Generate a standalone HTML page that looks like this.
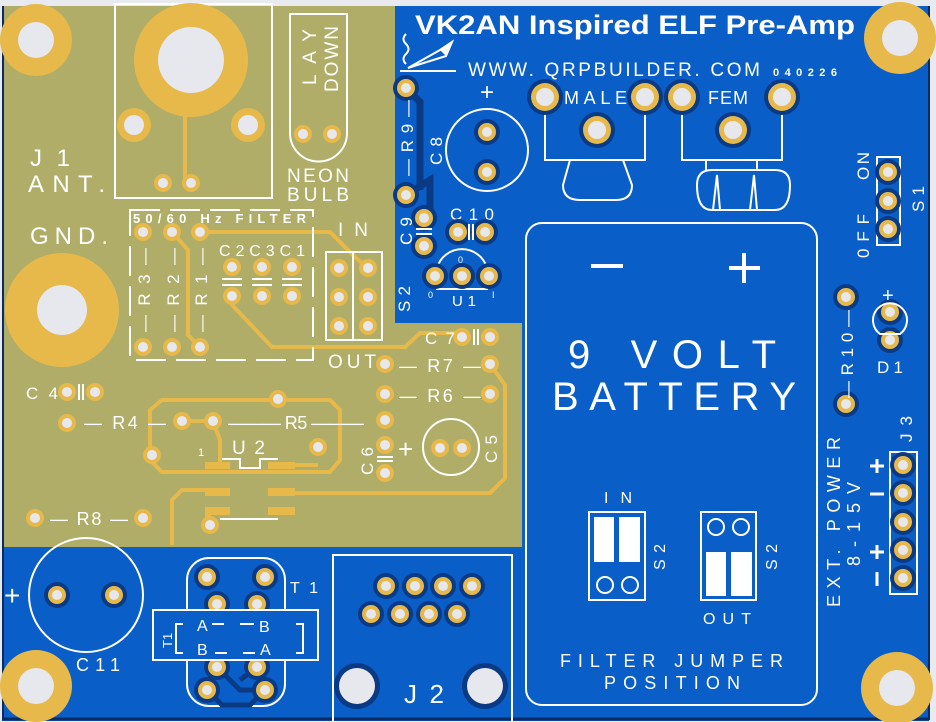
<!DOCTYPE html>
<html><head><meta charset="utf-8"><style>
html,body{margin:0;padding:0;background:#e8eaf0;}
svg{display:block}
text{font-family:"Liberation Sans",sans-serif;fill:#fff}
.m{font-family:"Liberation Sans",sans-serif}
</style></head><body>
<svg width="936" height="722" viewBox="0 0 936 722" xmlns="http://www.w3.org/2000/svg">
<defs>
<g id="po"><circle r="9" fill="#e7b94a"/><circle r="5" fill="#e6e8ee"/></g>
<g id="pb"><circle r="13" fill="#0b3a84"/><circle r="9" fill="#e7b94a"/><circle r="5" fill="#e6e8ee"/></g>
<g id="bb"><circle r="18" fill="#0b3a84"/><circle r="14" fill="#e7b94a"/><circle r="9" fill="#e6e8ee"/></g>
</defs>
<rect x="0" y="0" width="936" height="722" fill="#e8eaf0"/>
<rect x="2" y="6" width="927" height="715" fill="#0a5ec8"/>
<path d="M2 6 H395 V323 H522 V547 H2 Z" fill="#afad68"/>
<line x1="3" y1="6" x2="3" y2="720" stroke="#0a2a60" stroke-width="2"/>
<line x1="2" y1="719" x2="929" y2="719" stroke="#0a2a60" stroke-width="3"/>
<line x1="929" y1="6" x2="929" y2="720" stroke="#0a2a60" stroke-width="2"/>

<g fill="none" stroke="#e7b94a" stroke-width="4">
<path d="M185 60 V183"/>
<path d="M200 232 H330 L356 258 L368 268"/>
<path d="M172 232 L188 250 V335 L200 347"/>
<path d="M232 296 V305 L272 347 H405 L420 333 H462"/>
<path d="M162 400 H330 L340 410 V460 L330 472 H162 L150 460 V410 Z"/>
<path d="M182 421 H213 L220 440 V463"/>
<path d="M272 465 H318"/>
<path d="M172 545 V500 L182 490 H220"/>
<path d="M270 493 H490 L505 478 V385 L490 364"/>
</g>
<g fill="#e7b94a">
<rect x="205" y="462" width="25" height="7"/><rect x="268" y="462" width="27" height="7"/>
<rect x="205" y="488" width="25" height="8"/><rect x="268" y="488" width="27" height="8"/>
<rect x="205" y="507" width="25" height="8"/><rect x="268" y="507" width="27" height="8"/>
<rect x="205" y="515" width="6" height="10"/>
</g>

<circle cx="36" cy="40" r="36" fill="#e7b94a"/><circle cx="36" cy="40" r="18" fill="#e6e8ee"/>
<circle cx="900" cy="38" r="36" fill="#e7b94a"/><circle cx="900" cy="38" r="18" fill="#e6e8ee"/>
<circle cx="36" cy="686" r="36" fill="#e7b94a"/><circle cx="36" cy="686" r="18" fill="#e6e8ee"/>
<circle cx="897" cy="688" r="36" fill="#e7b94a"/><circle cx="897" cy="688" r="18" fill="#e6e8ee"/>

<rect x="115" y="4" width="157" height="194" fill="none" stroke="#fff" stroke-width="2"/>
<circle cx="191" cy="60" r="57" fill="#e7b94a"/><circle cx="191" cy="60" r="33" fill="#e6e8ee"/>
<circle cx="134" cy="125" r="17" fill="#e7b94a"/><circle cx="134" cy="125" r="10" fill="#e6e8ee"/>
<circle cx="248" cy="125" r="17" fill="#e7b94a"/><circle cx="248" cy="125" r="10" fill="#e6e8ee"/>
<use href="#po" x="163" y="183"/><use href="#po" x="191" y="183"/>
<circle cx="62" cy="310" r="57" fill="#e7b94a"/><circle cx="62" cy="310" r="25" fill="#e6e8ee"/>
<text x="30" y="166" font-size="24" textLength="40">J1</text>
<text x="28" y="192" font-size="24" textLength="77">ANT.</text>
<text x="30" y="244" font-size="24" textLength="78">GND.</text>

<path d="M290 14 H347 V133 A28.5 28.5 0 0 1 290 133 Z" fill="none" stroke="#fff" stroke-width="2"/>
<use href="#po" x="303" y="134"/><use href="#po" x="332" y="134"/>
<text transform="translate(316,85) rotate(-90)" font-size="19" textLength="56">LAY</text>
<text transform="translate(338,92) rotate(-90)" font-size="19" textLength="66">DOWN</text>
<text x="287" y="182" font-size="19" textLength="62">NEON</text>
<text x="287" y="201" font-size="19" textLength="62">BULB</text>

<path d="M130 210 H313 V360 H130 Z" fill="none" stroke="#fff" stroke-width="2" stroke-dasharray="30 10"/>
<text x="133" y="223" font-size="13" font-weight="bold" textLength="173">50/60 Hz FILTER</text>
<use href="#po" x="143" y="232"/><use href="#po" x="172" y="232"/><use href="#po" x="200" y="232"/>
<use href="#po" x="143" y="347"/><use href="#po" x="172" y="347"/><use href="#po" x="200" y="347"/>
<text transform="translate(150,332) rotate(-90)" font-size="17" textLength="84">—R3—</text>
<text transform="translate(179,332) rotate(-90)" font-size="17" textLength="84">—R2—</text>
<text transform="translate(207,332) rotate(-90)" font-size="17" textLength="84">—R1—</text>
<text x="219" y="256" font-size="16" textLength="86">C2C3C1</text>
<use href="#po" x="232" y="267"/><use href="#po" x="262" y="267"/><use href="#po" x="292" y="267"/>
<use href="#po" x="232" y="296"/><use href="#po" x="262" y="296"/><use href="#po" x="292" y="296"/>
<g stroke="#fff" stroke-width="2"><path d="M222 279H242M222 285H242M252 279H272M252 285H272M282 279H302M282 285H302"/></g>
<text x="338" y="236" font-size="19" textLength="30">IN</text>
<rect x="326" y="252" width="56" height="88" fill="none" stroke="#fff" stroke-width="2"/>
<line x1="353" y1="252" x2="353" y2="340" stroke="#fff" stroke-width="2"/>
<use href="#po" x="339" y="268"/><use href="#po" x="368" y="268"/>
<use href="#po" x="339" y="297"/><use href="#po" x="368" y="297"/>
<use href="#po" x="339" y="326"/><use href="#po" x="368" y="326"/>
<text x="328" y="368" font-size="19" textLength="48">OUT</text>

<text x="26" y="399" font-size="17" textLength="32">C4</text>
<use href="#po" x="67" y="392"/><use href="#po" x="95" y="392"/>
<path d="M79 384V400M83 384V400" stroke="#fff" stroke-width="2"/>
<use href="#po" x="67" y="423"/><use href="#po" x="182" y="421"/><use href="#po" x="213" y="421"/>
<text x="84" y="429" font-size="18" textLength="82">— R4 —</text>
<text x="228" y="429" font-size="18" textLength="136">——— R5 ———</text>
<use href="#po" x="278" y="399"/><use href="#po" x="152" y="455"/><use href="#po" x="318" y="447"/><use href="#po" x="210" y="525"/>
<text x="198" y="456" font-size="11">1</text>
<text x="232" y="454" font-size="19" textLength="33">U2</text>
<path d="M222 459H240V468H260V459H278" fill="none" stroke="#fff" stroke-width="2"/>
<line x1="220" y1="519" x2="278" y2="519" stroke="#fff" stroke-width="2"/>
<use href="#po" x="385" y="364"/><use href="#po" x="490" y="364"/>
<use href="#po" x="385" y="394"/><use href="#po" x="490" y="394"/>
<use href="#po" x="385" y="420"/><use href="#po" x="385" y="445"/><use href="#po" x="385" y="473"/>
<use href="#po" x="462" y="337"/><use href="#po" x="490" y="337"/>
<path d="M474 329V345M478 329V345" stroke="#fff" stroke-width="2"/>
<text x="425" y="344" font-size="17" textLength="30">C7</text>
<text x="399" y="372" font-size="18" textLength="82">— R7 —</text>
<text x="399" y="402" font-size="18" textLength="82">— R6 —</text>
<text transform="translate(373,475) rotate(-90)" font-size="17" textLength="28">C6</text>
<path d="M377 457H393M377 461H393" stroke="#fff" stroke-width="2"/>
<text x="398" y="458" font-size="26">+</text>
<circle cx="451" cy="447" r="28" fill="none" stroke="#fff" stroke-width="2"/>
<use href="#po" x="440" y="448"/><use href="#po" x="462" y="448"/>
<text transform="translate(497,463) rotate(-90)" font-size="17" textLength="28">C5</text>
<use href="#po" x="35" y="518"/><use href="#po" x="143" y="518"/>
<text x="50" y="525" font-size="18" textLength="78">— R8 —</text>

<text x="415" y="34" font-size="27" font-weight="bold" textLength="440" lengthAdjust="spacingAndGlyphs">VK2AN Inspired ELF Pre-Amp</text>
<path d="M406 34 q-5 5 0 10 q5 5 0 10 q-5 5 0 10 M400 71 H456 M408 68 L440 50 L452 42 L446 56 L414 66 Z" stroke="#fff" stroke-width="2" fill="none"/>
<path d="M440 50 L452 42 L446 56 Z" fill="#fff"/>
<text x="468" y="76" font-size="19" textLength="292">WWW. QRPBUILDER. COM</text>
<text x="773" y="76" font-size="11" font-weight="bold" textLength="64">040226</text>
<path d="M406 88 L420 102 V190 M406 195 L430 180 V225" stroke="#0b3a84" stroke-width="7" fill="none"/>
<use href="#pb" x="406" y="88"/><use href="#pb" x="406" y="195"/>
<text transform="translate(413,176) rotate(-90)" font-size="17" textLength="76">—R9—</text>
<text transform="translate(442,165) rotate(-90)" font-size="17" textLength="28">C8</text>
<text x="480" y="100" font-size="24">+</text>
<circle cx="487" cy="150" r="41" fill="none" stroke="#fff" stroke-width="2"/>
<use href="#pb" x="487" y="132"/><use href="#pb" x="487" y="172"/>
<use href="#pb" x="424" y="218"/><use href="#pb" x="424" y="246"/>
<path d="M416 229H432M416 234H432" stroke="#fff" stroke-width="2"/>
<text transform="translate(412,245) rotate(-90)" font-size="17" textLength="28">C9</text>
<text x="450" y="220" font-size="17" textLength="44">C10</text>
<use href="#pb" x="458" y="232"/><use href="#pb" x="485" y="232"/>
<path d="M469 224V240M473 224V240" stroke="#fff" stroke-width="2"/>
<path d="M437 289 V268 A26 26 0 0 1 487 268 V289 Z" fill="none" stroke="#fff" stroke-width="2"/>
<use href="#pb" x="435" y="276"/><use href="#pb" x="462" y="276"/><use href="#pb" x="489" y="276"/>
<text x="458" y="263" font-size="9">0</text><text x="428" y="298" font-size="9">0</text><text x="492" y="298" font-size="9">I</text>
<text x="452" y="306" font-size="15" textLength="24">U1</text>
<text transform="translate(410,312) rotate(-90)" font-size="17" textLength="26">S2</text>

<path d="M545 97V160H645V97 M570 160 L563 185 Q563 200 580 200 H616 Q632 200 632 185 L623 160" fill="none" stroke="#fff" stroke-width="2"/>
<path d="M682 97V160H782V97 M706 160V170 M757 160V170 M712 170 H775 Q790 170 790 185 Q790 210 775 210 H712 Q697 210 697 185 Q697 170 712 170 Z M713 210 L717 175 L720 210 M750 210 L754 175 L757 210" fill="none" stroke="#fff" stroke-width="2"/>
<use href="#bb" x="545" y="97"/><use href="#bb" x="645" y="97"/><use href="#bb" x="597" y="130"/>
<use href="#bb" x="682" y="97"/><use href="#bb" x="782" y="97"/><use href="#bb" x="733" y="130"/>
<text x="564" y="104" font-size="18" textLength="63">MALE</text>
<text x="708" y="104" font-size="18" textLength="40">FEM</text>

<rect x="877" y="157" width="23" height="88" fill="none" stroke="#fff" stroke-width="2"/>
<use href="#pb" x="888" y="172"/><use href="#pb" x="888" y="201"/><use href="#pb" x="888" y="229"/>
<text transform="translate(869,180) rotate(-90)" font-size="17" textLength="28">ON</text>
<text transform="translate(869,258) rotate(-90)" font-size="17" textLength="44">0FF</text>
<text transform="translate(924,212) rotate(-90)" font-size="17" textLength="26">S1</text>
<use href="#pb" x="846" y="297"/><use href="#pb" x="846" y="404"/>
<text transform="translate(853,398) rotate(-90)" font-size="17" textLength="88">—R10—</text>
<use href="#pb" x="890" y="312"/><use href="#pb" x="890" y="340"/>
<path d="M880 334 A17 17 0 1 1 900 334 Z" fill="none" stroke="#fff" stroke-width="2"/>
<text x="882" y="302" font-size="20">+</text>
<text x="877" y="373" font-size="17" textLength="26">D1</text>

<rect x="890" y="452" width="27" height="142" fill="none" stroke="#fff" stroke-width="2"/>
<use href="#pb" x="903" y="465"/><use href="#pb" x="903" y="493"/><use href="#pb" x="903" y="522"/><use href="#pb" x="903" y="550"/><use href="#pb" x="903" y="578"/>
<text transform="translate(912,442) rotate(-90)" font-size="17" textLength="26">J3</text>
<g stroke="#fff" stroke-width="3"><path d="M870 466H884M877 459V473M870 494H884M870 552H884M877 545V559M877 572V586"/></g>
<text transform="translate(840,607) rotate(-90)" font-size="18" textLength="170">EXT. POWER</text>
<text transform="translate(860,566) rotate(-90)" font-size="18" textLength="84">8-15V</text>

<rect x="526" y="223" width="291" height="482" rx="16" fill="none" stroke="#fff" stroke-width="2"/>
<path d="M591 266H623M729 268H760M744 253V283" stroke="#fff" stroke-width="4"/>
<text x="568" y="368" font-size="40" textLength="208">9 VOLT</text>
<text x="552" y="410" font-size="40" textLength="244">BATTERY</text>
<text x="604" y="503" font-size="16" textLength="28">IN</text>
<rect x="589" y="512" width="56" height="88" fill="none" stroke="#fff" stroke-width="2"/>
<rect x="594" y="517" width="20" height="45" fill="#fff"/><rect x="619" y="517" width="21" height="45" fill="#fff"/>
<circle cx="605" cy="585" r="8" fill="none" stroke="#fff" stroke-width="2"/><circle cx="630" cy="585" r="8" fill="none" stroke="#fff" stroke-width="2"/>
<text transform="translate(665,570) rotate(-90)" font-size="16" textLength="26">S2</text>
<rect x="701" y="512" width="55" height="88" fill="none" stroke="#fff" stroke-width="2"/>
<circle cx="716" cy="527" r="8" fill="none" stroke="#fff" stroke-width="2"/><circle cx="741" cy="527" r="8" fill="none" stroke="#fff" stroke-width="2"/>
<rect x="706" y="552" width="20" height="44" fill="#fff"/><rect x="731" y="552" width="21" height="44" fill="#fff"/>
<text transform="translate(777,570) rotate(-90)" font-size="16" textLength="26">S2</text>
<text x="703" y="624" font-size="16" textLength="48">OUT</text>
<text x="560" y="667" font-size="18" textLength="223">FILTER JUMPER</text>
<text x="604" y="689" font-size="18" textLength="136">POSITION</text>

<circle cx="86" cy="595" r="57" fill="none" stroke="#fff" stroke-width="2"/>
<use href="#pb" x="57" y="595"/><use href="#pb" x="114" y="595"/>
<text x="4" y="605" font-size="28">+</text>
<text x="76" y="671" font-size="18" textLength="44">C11</text>
<rect x="187" y="558" width="98" height="148" rx="22" fill="none" stroke="#fff" stroke-width="2"/>
<path d="M217 667 L240 690 H257 M257 667 L240 680 M207 690 L222 705 H250 L265 690" stroke="#0b3a84" stroke-width="5" fill="none"/>
<use href="#pb" x="207" y="577"/><use href="#pb" x="265" y="577"/>
<use href="#pb" x="217" y="604"/><use href="#pb" x="257" y="604"/>
<use href="#pb" x="217" y="667"/><use href="#pb" x="257" y="667"/>
<use href="#pb" x="207" y="690"/><use href="#pb" x="265" y="690"/>
<rect x="153" y="610" width="165" height="50" fill="#0a5ec8" stroke="#fff" stroke-width="2"/>
<path d="M183 624H176V653H183 M296 624H303V653H296 M212 624H224 M240 624H254 M215 653H227 M243 653H255" stroke="#fff" stroke-width="2" fill="none"/>
<text x="197" y="631" font-size="16">A</text><text x="259" y="632" font-size="16">B</text>
<text x="197" y="655" font-size="16">B</text><text x="260" y="655" font-size="16">A</text>
<text transform="translate(172,648) rotate(-90)" font-size="13">T1</text>
<text x="290" y="593" font-size="16" textLength="28">T1</text>
<rect x="333" y="555" width="179" height="170" fill="none" stroke="#fff" stroke-width="2"/>
<use href="#pb" x="386" y="586"/><use href="#pb" x="415" y="586"/><use href="#pb" x="443" y="586"/><use href="#pb" x="472" y="586"/>
<use href="#pb" x="371" y="614"/><use href="#pb" x="400" y="614"/><use href="#pb" x="429" y="614"/><use href="#pb" x="457" y="614"/>
<circle cx="357" cy="686" r="23" fill="#0b3a84"/><circle cx="357" cy="686" r="18" fill="#e6e8ee"/>
<circle cx="485" cy="686" r="23" fill="#0b3a84"/><circle cx="485" cy="686" r="18" fill="#e6e8ee"/>
<text x="404" y="703" font-size="26" textLength="40">J2</text>
</svg>
</body></html>
